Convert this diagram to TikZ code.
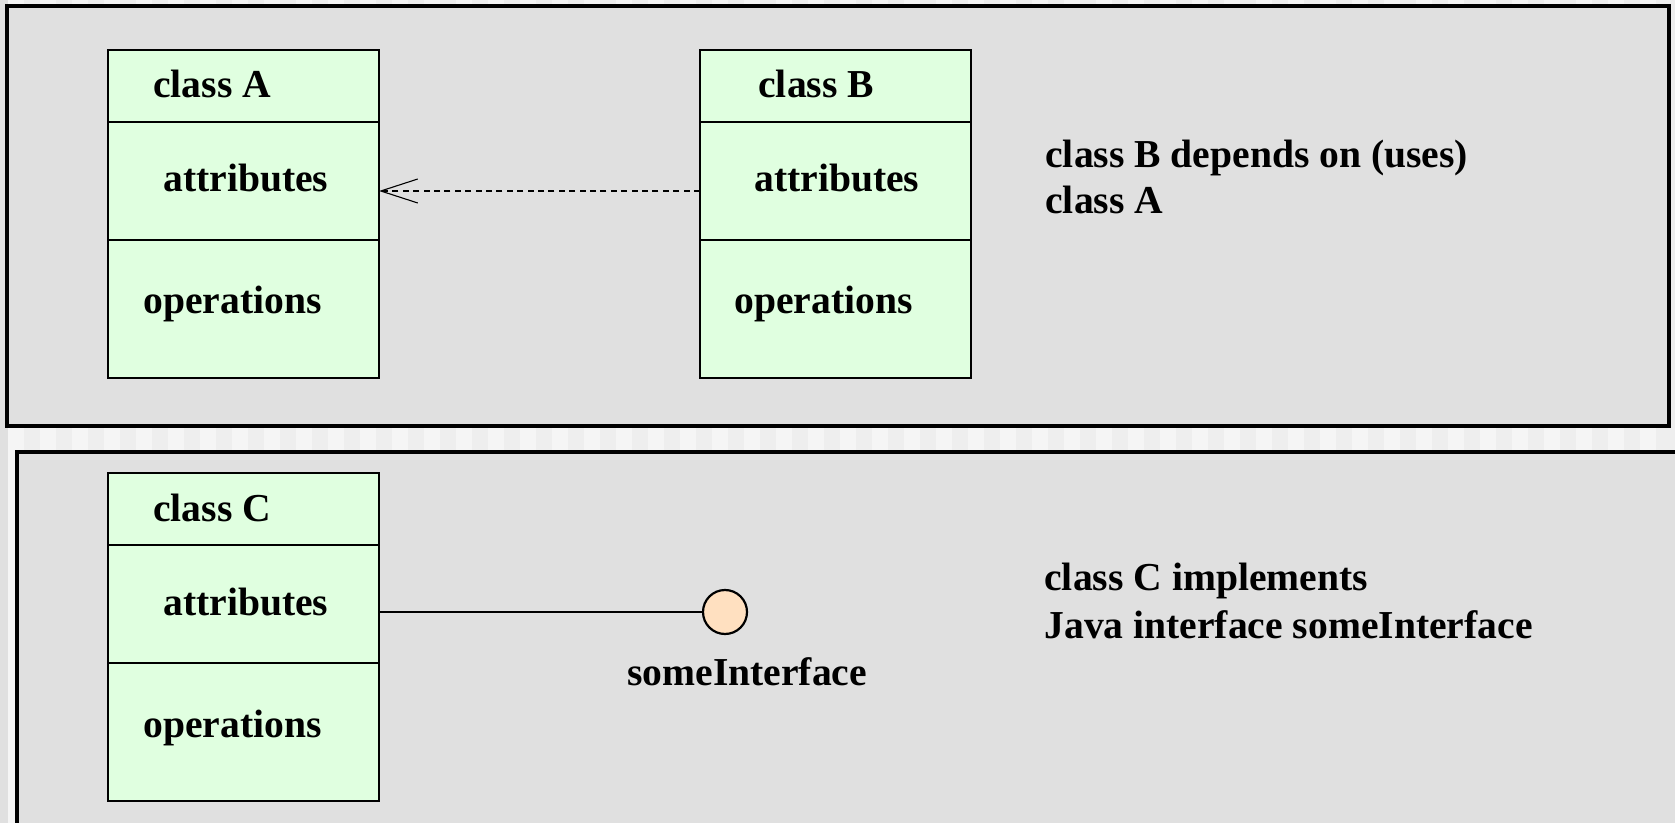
\documentclass[tikz,border=0pt]{standalone}
\usepackage{fontspec}
\setmainfont{Liberation Serif}
\usetikzlibrary{positioning}
\usetikzlibrary{arrows.meta}
\definecolor{panelgray}{HTML}{E0E0E0}
\definecolor{stripedark}{HTML}{EEEEEE}
\definecolor{stripelight}{HTML}{F5F5F5}
\definecolor{classgreen}{HTML}{E0FFE0}
\definecolor{ifacepeach}{HTML}{FFE0C0}
\tikzset{panel/.style = {fill=panelgray, draw=black, line width=1.6pt}}
\tikzset{compartment/.style = {draw, fill=classgreen, line width=1.2pt, minimum width=135.5pt, inner sep=0pt, outer sep=0pt}}
\tikzset{lbl/.style = {font=\fontsize{19.8pt}{23pt}\selectfont\bfseries, inner sep=0pt, anchor=base west}}
\tikzset{dep/.style = {-{Straight Barb[length=18.5pt,width=12pt]}, line width=0.55pt, dash pattern=on 3pt off 2.2pt}}
\tikzset{iface/.style = {circle, draw, fill=ifacepeach, line width=1.1pt, minimum size=22pt, inner sep=0pt, outer sep=0pt}}

\begin{document}
\begin{tikzpicture}[x=0.5pt, y=-0.5pt]
    \clip (0,0) rectangle (1675,823);

    % slide background
    \fill[stripedark] (0,0) rectangle (1675,823);
    \foreach \i in {0,...,51}{
    \fill[stripelight] (8+32*\i,0) rectangle +(16,823); }
    \fill[panelgray] (0,0) rectangle (8,823);

    % the two panels
    \draw[panel] (7,6) rectangle (1669,426);
    \draw[panel] (17,452) rectangle (1700,850);

    % class boxes
    \foreach \cls/\x/\y in {A/108/50, B/700/50, C/108/473}{
    \node[compartment, minimum height=36pt, anchor=north west] (\cls-name) at (\x,\y) {};
    \node[compartment, minimum height=59pt, below=0pt of \cls-name] (\cls-attr) {};
    \node[compartment, minimum height=69pt, below=0pt of \cls-attr] (\cls-ops) {}; }

    % class A
    \node[lbl] (A-title) at (153,98) {class A};
    \node[lbl] (A-attrtext) at (163,192) {attributes};
    \node[lbl] (A-opstext) at (143,314) {operations};

    % class B
    \node[lbl] (B-title) at (758,98) {class B};
    \node[lbl] (B-attrtext) at (754,192) {attributes};
    \node[lbl] (B-opstext) at (734,314) {operations};

    % class C
    \node[lbl] (C-title) at (153,521) {class C};
    \node[lbl] (C-attrtext) at (163,615) {attributes};
    \node[lbl] (C-opstext) at (143,737) {operations};

    % dependency B -> A
    \draw[dep] ([yshift=-5pt]B-attr.west) -- ([yshift=-5pt]A-attr.east);

    % interface of C
    \node[iface] (I) at (725,612) {};
    \node[lbl] (I-label) at (627,685) {someInterface};
    \draw[line width=1.1pt] (I.west) -- (C-attr.east |- I.west);

    % notes
    \node[lbl] (noteB1) at (1045,168) {class B depends on (uses)};
    \node[lbl] (noteB2) at (1045,214) {class A};
    \node[lbl] (noteC1) at (1044,590) {class C implements};
    \node[lbl] (noteC2) at (1044,638) {Java interface someInterface};
\end{tikzpicture}
\end{document}
